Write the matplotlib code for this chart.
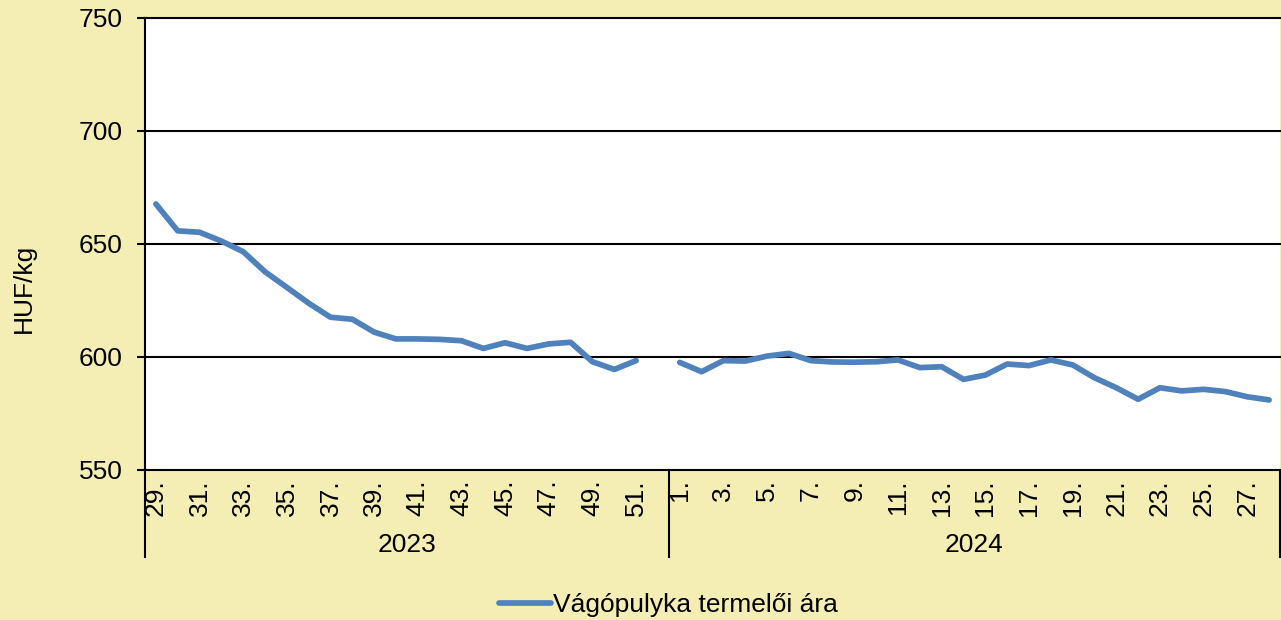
import numpy as np
import matplotlib
matplotlib.use("Agg")
import matplotlib.pyplot as plt
from matplotlib.transforms import blended_transform_factory

plt.rcParams['font.family'] = ['Liberation Sans', 'DejaVu Sans']

# ---- data ----
years = ["2023", "2024"]
weeks_2023 = list(range(29, 53))
weeks_2024 = list(range(1, 29))
values_2023 = [667.7, 655.8, 655.2, 651.3, 646.6, 637.7, 630.8, 623.8, 617.6, 616.7,
               611.0, 608.0, 608.0, 607.8, 607.2, 603.8, 606.3, 603.8, 605.8, 606.5,
               597.9, 594.5, 598.4, np.nan]
values_2024 = [597.6, 593.5, 598.4, 598.2, 600.4, 601.6, 598.4, 597.8, 597.7, 597.9,
               598.7, 595.3, 595.7, 590.1, 592.0, 596.9, 596.2, 598.7, 596.5, 590.8,
               586.4, 581.3, 586.4, 585.0, 585.7, 584.7, 582.4, 581.0]
series_name = "Vágópulyka termelői ára"
y_label = "HUF/kg"
y_ticks = [550, 600, 650, 700, 750]

# ---- figure ----
W, H = 1281, 620
bg = '#F5EEB4'
FS = 19
fig = plt.figure(figsize=(W / 100, H / 100), dpi=100, facecolor=bg)
ax = fig.add_axes([145 / W, (H - 470) / H, (1280 - 145) / W, (470 - 18) / H])
ax.set_facecolor('white')

weeks = weeks_2023 + weeks_2024
values = values_2023 + values_2024
x = np.arange(len(weeks))
line, = ax.plot(x, values, color='#4F81BD', lw=4.1, solid_capstyle='round',
                solid_joinstyle='round', label=series_name, zorder=3)

ax.set_xlim(-0.5, len(weeks) - 0.5)
ax.set_ylim(y_ticks[0], y_ticks[-1])
ax.set_yticks(y_ticks)
ax.tick_params(axis='y', length=5.8, width=1.5, labelsize=FS, pad=10.5, color='black')
for yv in y_ticks[1:]:
    ax.axhline(yv, color='black', lw=1.5, zorder=1, clip_on=False)

tick_pos = [i for i, w in enumerate(weeks) if w % 2 == 1]
ax.set_xticks(tick_pos)
ax.set_xticklabels([f"{weeks[i]}." for i in tick_pos], rotation=90, fontsize=FS)
ax.tick_params(axis='x', length=0, pad=6.5)

for s in ['top', 'right']:
    ax.spines[s].set_visible(False)
ax.spines['left'].set_linewidth(1.5)
ax.spines['bottom'].set_linewidth(1.5)

# year groups
trans = blended_transform_factory(ax.transData, ax.transAxes)
bottom_ext = -(557 - 470) / (470 - 18)
n23 = len(weeks_2023)
bounds = [-0.5, n23 - 0.5, len(weeks) - 0.5]
for b in bounds:
    ax.plot([b, b], [0, bottom_ext], transform=trans, color='black', lw=1.5, clip_on=False)
year_y = -(545 - 470) / (470 - 18)
ax.text((bounds[0] + bounds[1]) / 2, year_y, years[0], transform=trans,
        ha='center', va='center', fontsize=FS)
ax.text((bounds[1] + bounds[2]) / 2, year_y, years[1], transform=trans,
        ha='center', va='center', fontsize=FS)

fig.text(24 / W, 1 - 288 / H, y_label, rotation=90, ha='center', va='center', fontsize=FS)

leg = fig.legend(handles=[line], loc='center', bbox_to_anchor=(668 / W, 1 - 605 / H),
                 frameon=False, fontsize=FS, handlelength=2.0, handletextpad=0.05)

fig.savefig('out.png', dpi=100, facecolor=bg)
